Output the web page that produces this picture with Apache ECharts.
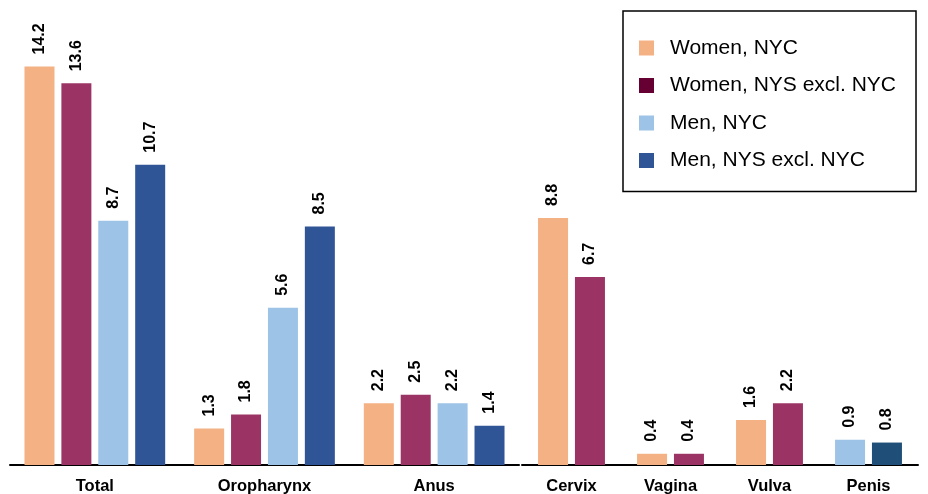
<!DOCTYPE html>
<html>
<head>
<meta charset="utf-8">
<script src="https://cdn.jsdelivr.net/npm/echarts@6/dist/echarts.min.js"></script>
<style>
  html, body { margin: 0; padding: 0; background: #fff; }
  #chart { width: 928px; height: 494px; }
</style>
</head>
<body>
<div id="chart"></div>
<script>
// Sites shared by both sexes (four bars each)
const sharedSites = ['Total', 'Oropharynx', 'Anus'];
const womenNYC = [14.2, 1.3, 2.2];
const womenNYS = [13.6, 1.8, 2.5];
const menNYC = [8.7, 5.6, 2.2];
const menNYS = [10.7, 8.5, 1.4];

// Sex-specific sites (two bars each)
const specificSites = ['Cervix', 'Vagina', 'Vulva', 'Penis'];
const specificNYC = [8.8, 0.4, 1.6, 0.9];
const specificNYS = [6.7, 0.4, 2.2, 0.8];

const seriesNames = ['Women, NYC', 'Women, NYS excl. NYC', 'Men, NYC', 'Men, NYS excl. NYC'];

const C = {
  wNYC: '#F4B183', wNYS: '#9B3464', mNYC: '#9DC3E6', mNYS: '#2F5597',
  penisNYS: '#1F4E79', legendWNYS: '#660033'
};

const font = '"Liberation Sans", Arial, sans-serif';

const label = {
  show: true, position: 'top', rotate: 90, align: 'left', verticalAlign: 'middle',
  distance: 12, color: '#000', fontWeight: 'bold', fontSize: 16, fontFamily: font
};

function xAxis(idx, cats) {
  return {
    type: 'category', gridIndex: idx, data: cats,
    axisLine: { show: true, lineStyle: { color: '#000', width: 2 } },
    axisTick: { show: false },
    axisLabel: { color: '#000', fontWeight: 'bold', fontSize: 16.5, fontFamily: font, margin: 13 }
  };
}
function yAxis(idx) {
  return { type: 'value', gridIndex: idx, min: 0, max: 16, show: false, splitLine: { show: false } };
}
function bar(name, data, color, idx) {
  return {
    type: 'bar', name, xAxisIndex: idx, yAxisIndex: idx, data,
    barWidth: 30, barGap: '23%', itemStyle: { color }, label, animation: false
  };
}

// Penis bars use the men's colours
const specA = specificNYC.map((v, i) => specificSites[i] === 'Penis' ? { value: v, itemStyle: { color: C.mNYC } } : v);
const specB = specificNYS.map((v, i) => specificSites[i] === 'Penis' ? { value: v, itemStyle: { color: C.penisNYS } } : v);

const chart = echarts.init(document.getElementById('chart'));
chart.setOption({
  backgroundColor: '#fff',
  animation: false,
  grid: [
    { left: 10, width: 509, top: 16, bottom: 29, outerBoundsMode: 'none' },
    { left: 522, width: 396, top: 16, bottom: 29, outerBoundsMode: 'none' }
  ],
  xAxis: [xAxis(0, sharedSites), xAxis(1, specificSites)],
  yAxis: [yAxis(0), yAxis(1)],
  legend: {
    orient: 'vertical', left: 623, top: 11, width: 296, height: 175,
    padding: [26, 20, 20, 16],
    borderColor: '#000', borderWidth: 1.5, backgroundColor: '#fff',
    itemWidth: 15, itemHeight: 15, itemGap: 15.5, icon: 'rect',
    selectedMode: false,
    textStyle: { color: '#000', fontSize: 21, fontFamily: font, padding: [0, 0, 0, 11], lineHeight: 22 },
    data: [
      { name: seriesNames[0], itemStyle: { color: C.wNYC } },
      { name: seriesNames[1], itemStyle: { color: C.legendWNYS } },
      { name: seriesNames[2], itemStyle: { color: C.mNYC } },
      { name: seriesNames[3], itemStyle: { color: C.mNYS } }
    ]
  },
  series: [
    bar(seriesNames[0], womenNYC, C.wNYC, 0),
    bar(seriesNames[1], womenNYS, C.wNYS, 0),
    bar(seriesNames[2], menNYC, C.mNYC, 0),
    bar(seriesNames[3], menNYS, C.mNYS, 0),
    bar(seriesNames[0], specA, C.wNYC, 1),
    bar(seriesNames[1], specB, C.wNYS, 1)
  ]
});
</script>
</body>
</html>
